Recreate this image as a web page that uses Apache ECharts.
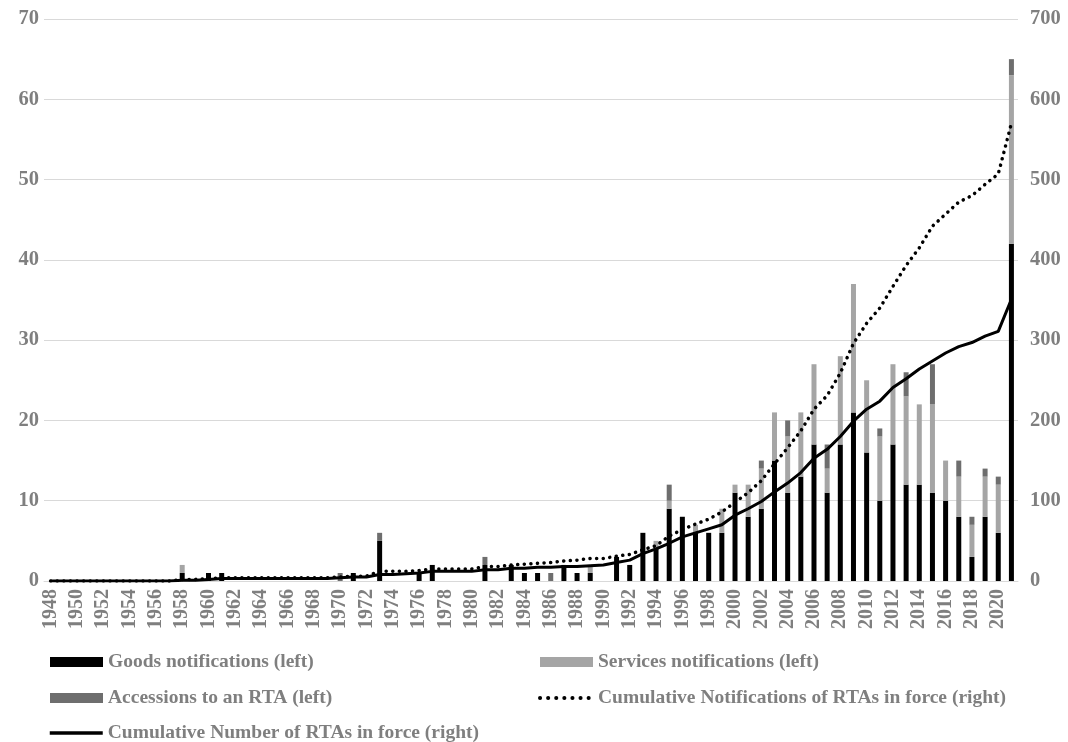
<!DOCTYPE html>
<html>
<head>
<meta charset="utf-8">
<script src="https://cdn.jsdelivr.net/npm/echarts@6/dist/echarts.min.js"></script>
<style>
  html, body { margin: 0; padding: 0; background: #fff; }
  #chart { width: 1068px; height: 742px; }
</style>
</head>
<body>
<div id="chart"></div>
<script>
const years = [];
for (let y = 1948; y <= 2021; y++) years.push(String(y));

// 1948 .. 2021
const goods = [
  0, 0, 0, 0, 0, 0, 0, 0, 0, 0,
  1, 0, 1, 1, 0, 0, 0, 0, 0, 0, 0, 0,
  0, 1, 0, 5, 0, 0, 1, 2, 0, 0, 0, 2, 0, 2, 1, 1, 0, 2, 1, 1,
  0, 3, 2, 6, 4, 9, 8, 6, 6, 6,
  11, 8, 9, 15, 11, 13, 17, 11, 17, 21,
  16, 10, 17, 12, 12, 11, 10, 8, 3, 8, 6, 42
];
const services = [
  0, 0, 0, 0, 0, 0, 0, 0, 0, 0,
  1, 0, 0, 0, 0, 0, 0, 0, 0, 0, 0, 0,
  0, 0, 0, 0, 0, 0, 0, 0, 0, 0, 0, 0, 0, 0, 0, 0, 0, 0, 0, 1,
  0, 0, 0, 0, 1, 1, 0, 1, 0, 3,
  1, 4, 5, 6, 7, 8, 10, 3, 11, 16,
  9, 8, 10, 11, 10, 11, 5, 5, 4, 5, 6, 21
];
const accessions = [
  0, 0, 0, 0, 0, 0, 0, 0, 0, 0,
  0, 0, 0, 0, 0, 0, 0, 0, 0, 0, 0, 0,
  1, 0, 0, 1, 0, 0, 0, 0, 0, 0, 0, 1, 0, 0, 0, 0, 1, 0, 0, 0,
  0, 0, 0, 0, 0, 2, 0, 0, 0, 0,
  0, 0, 1, 0, 2, 0, 0, 3, 0, 0,
  0, 1, 0, 3, 0, 5, 0, 2, 1, 1, 1, 2
];
const cumNotifications = [
  0, 0, 0, 0, 0, 0, 0, 0, 0, 0,
  2, 2, 3, 4, 4, 4, 4, 4, 4, 4, 4, 4,
  5, 6, 6, 12, 12, 12, 13, 15, 15, 15, 15, 18, 18, 20, 21, 22, 23, 25, 26, 28,
  28, 31, 33, 39, 44, 56, 64, 71, 77, 86,
  98, 110, 125, 146, 166, 187, 214, 231, 259, 296,
  321, 340, 367, 393, 415, 442, 457, 472, 480, 494, 507, 570
];
const cumInForce = [
  0, 0, 0, 0, 0, 0, 0, 0, 0, 0,
  1, 1, 2, 3, 3, 3, 3, 3, 3, 3, 3, 3,
  4, 5, 5, 8, 8, 9, 10, 12, 12, 12, 12, 14, 14, 16, 16, 17, 17, 18, 18, 19,
  20, 23, 26, 34, 40, 47, 55, 60, 65, 70,
  82, 90, 99, 111, 122, 135, 153, 164, 180, 199,
  214, 224, 241, 252, 264, 274, 284, 292, 297, 305, 311, 351
];

const names = {
  goods: "Goods notifications (left)",
  services: "Services notifications (left)",
  accessions: "Accessions to an RTA (left)",
  notif: "Cumulative Notifications of RTAs in force (right)",
  force: "Cumulative Number of RTAs in force (right)",
};

const labelFont = {
  fontFamily: "Liberation Serif",
  fontWeight: "bold",
  color: "#7f7f7f",
};

// one legend per entry so each sits exactly where the reference has it
function legendAt(name, left, top, extra) {
  return {
    left: left,
    top: top,
    padding: 0,
    itemWidth: 53,
    itemHeight: 10,
    selectedMode: false,
    textStyle: { ...labelFont, fontSize: 19.5, lineHeight: 20 },
    data: [{ name: name, ...extra }],
  };
}
const noSymbol = { color: "rgba(0,0,0,0)", borderWidth: 0, opacity: 0 };

const chart = echarts.init(document.getElementById("chart"), null, { renderer: "canvas" });

chart.setOption({
  animation: false,
  grid: { left: 44, right: 50, top: 19, bottom: 161 },
  legend: [
    legendAt(names.goods, 50, 652, { icon: "rect" }),
    legendAt(names.services, 540, 652, { icon: "rect" }),
    legendAt(names.accessions, 50, 688, { icon: "rect" }),
    legendAt(names.notif, 538, 688, {
      itemStyle: noSymbol,
      lineStyle: { width: 4, type: [0.1, 8], cap: "round" },
    }),
    legendAt(names.force, 48, 723, {
      itemStyle: noSymbol,
      lineStyle: { width: 3.5 },
    }),
  ],
  xAxis: {
    type: "category",
    data: years,
    axisTick: { show: false },
    axisLine: { lineStyle: { color: "#d9d9d9", width: 1 } },
    axisLabel: { ...labelFont, fontSize: 20, rotate: 90, interval: 1, margin: 8 },
  },
  yAxis: [
    {
      type: "value",
      min: 0,
      max: 70,
      interval: 10,
      axisLine: { show: false },
      axisTick: { show: false },
      splitLine: { lineStyle: { color: "#d9d9d9", width: 1 } },
      axisLabel: { ...labelFont, fontSize: 20.5, margin: 5 },
    },
    {
      type: "value",
      min: 0,
      max: 700,
      interval: 100,
      axisLine: { show: false },
      axisTick: { show: false },
      splitLine: { show: false },
      axisLabel: { ...labelFont, fontSize: 20.5, margin: 12 },
    },
  ],
  series: [
    {
      name: names.goods,
      type: "bar",
      stack: "n",
      barWidth: 5,
      data: goods,
      itemStyle: { color: "#000000" },
    },
    {
      name: names.services,
      type: "bar",
      stack: "n",
      barWidth: 5,
      data: services,
      itemStyle: { color: "#a5a5a5" },
    },
    {
      name: names.accessions,
      type: "bar",
      stack: "n",
      barWidth: 5,
      data: accessions,
      itemStyle: { color: "#6e6e6e" },
    },
    {
      name: names.notif,
      type: "line",
      yAxisIndex: 1,
      data: cumNotifications,
      symbol: "none",
      itemStyle: { color: "#000000" },
      lineStyle: { color: "#000000", width: 3.5, type: [0.1, 6.5], cap: "round" },
      z: 3,
    },
    {
      name: names.force,
      type: "line",
      yAxisIndex: 1,
      data: cumInForce,
      symbol: "none",
      itemStyle: { color: "#000000" },
      lineStyle: { color: "#000000", width: 3 },
      z: 4,
    },
  ],
});
</script>
</body>
</html>
